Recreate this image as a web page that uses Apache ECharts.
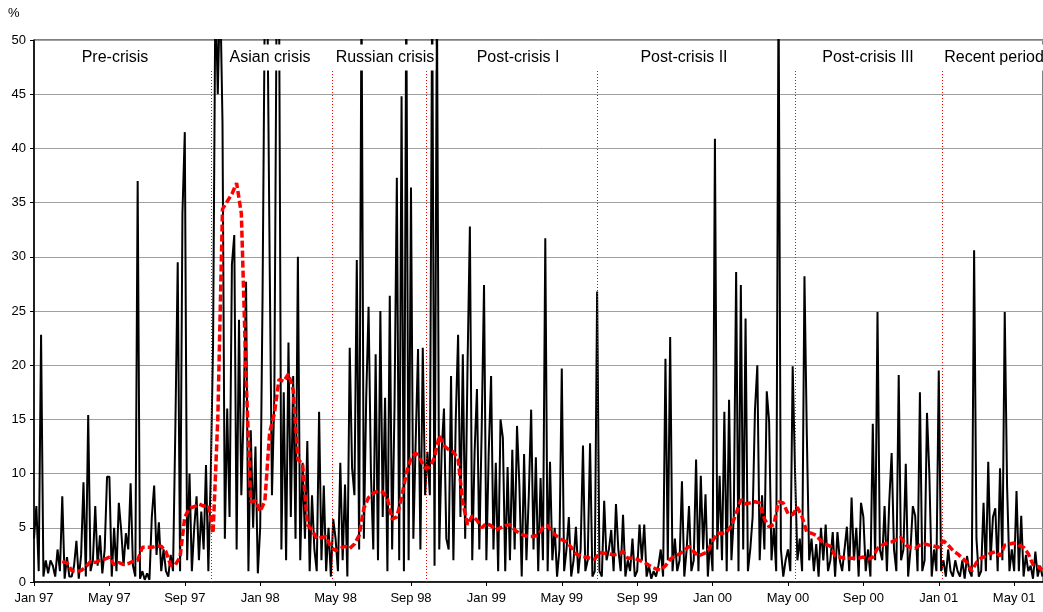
<!DOCTYPE html>
<html>
<head>
<meta charset="utf-8">
<script src="https://cdn.jsdelivr.net/npm/echarts@6/dist/echarts.min.js"></script>
<style>
  html, body { margin: 0; padding: 0; background: #fff; }
  #main { width: 1043px; height: 612px; }
</style>
</head>
<body>
<div id="main"></div>
<script>
// x is counted in months from Jan 97, a label every 4 months
const tickLabels = ['Jan 97', 'May 97', 'Sep 97', 'Jan 98', 'May 98', 'Sep 98', 'Jan 99',
  'May 99', 'Sep 99', 'Jan 00', 'May 00', 'Sep 00', 'Jan 01', 'May 01'];

const spreadPerMonth = 8;
const spread = [
  4, 7, 1, 22.8, 0.5, 2, 0.8, 2,
  1.5, 0.5, 3, 1, 7.9, 0.3, 2.3, 0.5,
  0.5, 1.5, 3.8, 0.3, 2.5, 9.2, 0.5, 15.4,
  1, 2, 7, 1.5, 4.3, 0.8, 3, 9.7,
  9.7, 0.5, 5, 1, 7.3, 4.8, 1.5, 4.5,
  3, 9.1, 1.5, 0.5, 37, 0.3, 1, 0.2,
  0.8, 0.2, 6, 8.9, 2.5, 5.5, 1, 3,
  1, 0.5, 2.5, 1, 14.3, 29.5, 1, 34,
  41.5, 2, 10, 1, 5, 7.9, 2, 6.5,
  3, 10.8, 1, 9.7, 21.9, 55, 45, 55,
  42.4, 4, 16, 6, 29.3, 32, 3, 24.2,
  8, 16, 27.7, 1, 14, 5, 12.5, 0.8,
  5, 26.3, 55, 55, 30, 8, 17, 55,
  55, 3, 17.5, 2, 22.1, 6, 19, 4,
  30, 2, 11, 4, 13, 1, 8, 3,
  1, 15.7, 2, 8.9, 1, 5, 0.5, 5.8,
  4, 1, 11, 2, 9, 0.5, 21.6, 10.5,
  8, 29.7, 3, 55, 4, 17, 25.4, 10,
  3, 21, 2, 25, 6, 17, 1, 26.4,
  3, 16, 37.3, 2, 44.8, 1, 55, 2,
  36.4, 4, 13, 21.5, 3, 21.6, 8, 12,
  8, 55, 1.5, 55, 3, 12, 16, 4,
  3, 19, 2, 15, 22.8, 6, 21, 4,
  20, 32.8, 2, 12, 17.8, 3, 14, 27.4,
  2, 12, 19, 3, 11, 1, 15, 13.3,
  1, 10.6, 2, 12.2, 3, 14.4, 9, 0.5,
  11.8, 2, 8, 15.9, 3, 11.5, 1, 9.6,
  2, 31.7, 1, 11.1, 2, 5, 0.5, 3,
  19.7, 1, 3, 6, 0.5, 2, 5.1, 0.8,
  3, 12.6, 1, 2, 12.8, 0.5, 1, 26.8,
  1, 0.5, 7.5, 2, 3, 4.8, 1, 7.2,
  3, 1, 6.2, 0.5, 2, 1, 4, 0.5,
  1, 5.3, 2, 5.3, 0.5, 1.5, 0.3, 1,
  0.5, 1.5, 3, 0.5, 20.6, 2, 22.6, 1,
  4, 1, 2, 9.3, 0.5, 3, 7, 1,
  2, 11.3, 1, 9.8, 3, 8.1, 0.5, 4,
  1, 40.9, 3, 9.8, 2, 15.7, 1, 16.8,
  2, 6, 28.6, 1, 27.4, 3, 24.3, 1,
  3, 6, 15.9, 20, 2, 8, 3, 17.6,
  14.8, 2, 5, 1, 55, 3, 0.5, 2,
  3, 1, 19.9, 10.2, 2, 4, 1, 28.2,
  13.6, 2, 4, 1, 3.5, 0.5, 5, 2,
  5.3, 1, 2, 4.6, 0.5, 4.6, 2, 1,
  3, 5.1, 1, 7.8, 2, 5, 0.5, 7.3,
  6, 1, 3, 0.5, 14.6, 2, 24.9, 3,
  2, 7, 1, 7.5, 11.9, 3, 1, 19.1,
  2, 3, 10.9, 0.5, 3, 7, 6.1, 1,
  17.5, 1, 2, 15.6, 10, 0.5, 3, 1,
  19.5, 1, 2, 0.5, 3, 1, 0.5, 2,
  1, 0.5, 2, 0.3, 2.4, 1, 0.5, 30.6,
  4, 0.5, 1, 7.3, 1, 11.1, 2, 6,
  6.8, 1, 10.5, 2, 24.9, 8.8, 1, 3,
  1, 8.4, 1, 6.1, 0.5, 2.5, 1, 1.5,
  0.3, 2.8, 0.5, 1.5, 0.5
];

// moving average (red), 4 points per month, starting mid Feb 97
const avgStart = 1.5;
const avgPerMonth = 4;
const average = [
  1.9, 1.75,
  1.05, 1.0, 1.05, 1.4,
  1.9, 1.8, 2.0, 2.1,
  2.3, 1.6, 1.8, 1.6,
  1.7, 1.9, 2.0, 3.2,
  3.2, 3.2, 3.3, 3.3,
  2.8, 1.55, 1.6, 2.3,
  6.0, 6.8, 6.95, 7.2,
  7.0, 7.1, 4.5, 15,
  34.4, 35.1, 35.8, 36.8,
  34, 19, 7.4, 7.5,
  6.5, 7.5, 13.8, 15.5,
  18.7, 18.5, 19.2, 17.7,
  11.3, 10.9, 5.3, 4.8,
  4.0, 4.1, 4.2, 3.2,
  2.9, 3.1, 3.3, 3.1,
  3.5, 4.3, 6.8, 7.8,
  8.2, 8.4, 8.3, 7.7,
  5.8, 6.0, 7.8, 10.0,
  11.4, 11.9, 11.3, 10.5,
  10.6, 11.5, 13.5, 12.6,
  12.2, 12.0, 11.3, 7.3,
  5.3, 6.1, 5.7, 5.0,
  5.4, 5.2, 4.8, 5.0,
  5.2, 5.3, 4.8, 4.5,
  4.3, 4.2, 4.2, 4.35,
  5.0, 5.2, 4.6, 4.2,
  3.9, 3.7, 3.2, 2.6,
  2.4, 2.3, 2.2, 2.1,
  2.7, 2.65, 2.6, 2.5,
  2.6, 2.8, 2.2, 2.2,
  2.1, 1.9, 1.7, 1.4,
  1.2, 1.1, 1.5, 2.1,
  2.4, 2.6, 2.9, 3.3,
  2.8, 2.4, 2.6, 2.8,
  3.8, 4.5, 4.5, 4.6,
  5.2, 6.3, 7.6, 7.2,
  7.3, 7.4, 7.3, 5.8,
  5.1, 5.3, 7.4, 7.3,
  6.3, 6.2, 6.9, 6.0,
  4.6, 4.5, 4.3, 3.8,
  3.5, 3.3, 2.4, 2.3,
  2.2, 2.2, 2.2, 2.2,
  2.3, 2.1, 2.3, 3.1,
  3.4, 3.6, 3.7, 3.9,
  4.1, 3.4, 3.2, 3.1,
  3.4, 3.5, 3.4, 3.3,
  3.2, 3.8, 3.4, 2.9,
  2.6, 2.2, 1.8, 1.0,
  1.8, 2.2, 2.4, 2.65,
  2.8, 2.4, 3.4, 3.5,
  3.6, 3.4, 3.2, 2.6,
  1.6, 1.45, 1.1
];

// period names and where each period starts (months from Jan 97)
const periods = ['Pre-crisis', 'Asian crisis', 'Russian crisis', 'Post-crisis I',
  'Post-crisis II', 'Post-crisis III', 'Recent period'];
const breaks = [9.43, 15.82, 20.83, 29.9, 40.41, 48.19];

const font = '"Liberation Sans", Arial, sans-serif';
const labelX = [115, 270, 385, 518, 684, 868, 994];
const breakTop = 47.2; // red separators stop just under the period labels
const sepStyle = { color: '#ff0000', type: [1, 2], width: 1 };

var myChart = echarts.init(document.getElementById('main'));

var option = {
  animation: false,
  backgroundColor: '#fff',
  grid: {
    left: 34, right: -3, top: 40, bottom: 30,
    show: true, borderColor: '#000', borderWidth: 1
  },
  xAxis: {
    type: 'value',
    min: 0,
    max: 53.53,
    interval: 4,
    splitLine: { show: false },
    axisLine: { lineStyle: { color: '#000', width: 1.5 } },
    axisTick: { length: 4, lineStyle: { color: '#000' } },
    axisLabel: {
      color: '#000', fontSize: 13, fontFamily: font, margin: 10,
      showMaxLabel: false,
      formatter: function (v) {
        return Math.abs(v % 4) < 1e-6 ? (tickLabels[Math.round(v / 4)] || '') : '';
      }
    }
  },
  yAxis: {
    type: 'value',
    min: 0,
    max: 50,
    interval: 5,
    axisLine: { show: true, lineStyle: { color: '#000', width: 1.5 } },
    axisTick: { show: true, length: 4, lineStyle: { color: '#000' } },
    axisLabel: { color: '#000', fontSize: 13, fontFamily: font, margin: 8 },
    splitLine: { lineStyle: { color: '#a0a0a0', width: 1 } }
  },
  graphic: [
    { type: 'text', left: 8, top: 7, z: 100, style: { text: '%', font: '13px ' + font, fill: '#000' } }
  ].concat(periods.map(function (p, i) {
    return {
      type: 'text', x: labelX[i], y: 57.5, z: 100,
      style: {
        text: p, font: '16px ' + font, fill: '#000',
        align: 'center', verticalAlign: 'middle',
        backgroundColor: '#fff', padding: [5, 1]
      }
    };
  })),
  series: [
    {
      name: 'spread',
      type: 'line',
      symbol: 'none',
      color: '#000',
      data: spread.map(function (v, i) { return [i / spreadPerMonth, v]; }),
      lineStyle: { color: '#000', width: 2 },
      z: 2
    },
    {
      name: 'average',
      type: 'line',
      symbol: 'none',
      color: '#ff0000',
      data: average.map(function (v, j) { return [avgStart + j / avgPerMonth, v]; }),
      lineStyle: { color: '#ff0000', width: 3.5, type: [7, 3] },
      z: 3,
      markLine: {
        silent: true,
        symbol: ['none', 'none'],
        label: { show: false },
        lineStyle: sepStyle,
        itemStyle: { color: '#ff0000' },
        emphasis: { disabled: true },
        data: breaks.map(function (m) {
          return [{ coord: [m, 0], lineStyle: sepStyle }, { coord: [m, breakTop] }];
        })
      }
    }
  ]
};

option && myChart.setOption(option);
</script>
</body>
</html>
